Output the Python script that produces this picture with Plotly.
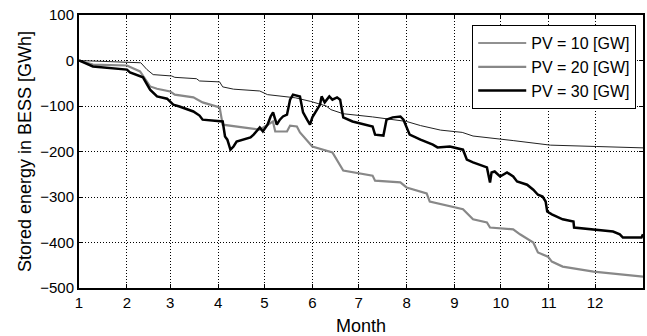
import plotly.graph_objects as go

# Day of year at which each month starts, and the month numbers shown
month_start_days = [0, 31, 59, 90, 120, 151, 181, 212, 243, 273, 304, 334]
month_labels = ["1", "2", "3", "4", "5", "6", "7", "8", "9", "10", "11", "12"]

# Stored energy in BESS [GWh] by day of year
pv10_day = [0, 20, 38, 40, 44, 48, 60, 62, 76, 78, 91, 93, 100, 117, 122, 140, 150, 160,
            163, 171, 190, 212, 221, 234, 248, 255, 281, 305, 335, 348, 365]
pv10_val = [0, -2, -4, -5, -20, -31, -34, -37, -40, -45, -47, -58, -63, -67, -75, -82, -90,
            -100, -108, -117, -124, -134, -143, -153, -158, -166, -176, -186, -189, -191, -192]

pv20_day = [0, 9, 31, 39.5, 46, 50.5, 59, 62, 74, 80, 91, 93, 106, 117, 125.5, 127, 134.6,
            136.6, 141, 143, 151, 158, 164, 171, 190, 191.6, 208, 212, 225, 227, 242, 248.5,
            255, 264, 266, 281, 285.4, 294, 297, 303.5, 306, 313, 333, 350, 365]
pv20_val = [0, -9, -11, -24, -57, -62, -68, -75, -81, -92, -103, -141, -147, -152, -134, -156,
            -156, -143, -145, -158, -189, -196, -202, -242, -253, -264, -268, -279, -292, -310,
            -321, -327, -349, -356, -367, -371, -382, -400, -422, -431, -442, -453, -464, -470,
            -475]

pv30_day = [0, 9, 31, 33, 41.4, 46, 50.5, 57, 61, 65, 74, 78, 80, 93, 94.5, 96, 98, 100, 102,
            111, 113, 117, 119, 122, 124, 125.6, 128, 130, 132, 134.6, 136.6, 138.5, 143, 145,
            147.6, 149.5, 151, 154, 156, 157, 159, 162, 164, 167, 169, 171, 177, 190, 191.6,
            197, 199, 203, 208, 210, 214, 221, 229, 232, 240, 248.5, 251, 255, 264, 266, 267,
            269, 272.5, 277, 281, 283.5, 290, 294, 297, 300, 302, 303, 306, 313, 320, 320.4,
            331, 345.6, 350, 352, 364, 365]
pv30_val = [0, -13, -20, -26, -37, -64, -79, -84, -97, -101, -112, -121, -130, -134, -167,
            -174, -196, -189, -178, -169, -163, -147, -156, -141, -123, -114, -141, -130, -123,
            -119, -86, -75, -79, -114, -130, -141, -125, -108, -97, -79, -92, -79, -86, -81,
            -86, -125, -134, -145, -163, -165, -130, -125, -123, -130, -163, -174, -185, -191,
            -189, -196, -218, -224, -235, -268, -246, -244, -255, -246, -255, -266, -273, -284,
            -295, -299, -310, -332, -338, -349, -354, -367, -371, -376, -382, -389, -389, -382]

series = [
    ("PV = 10 [GW]", pv10_day, pv10_val, "#222222", 1.0),
    ("PV = 20 [GW]", pv20_day, pv20_val, "#888888", 2.2),
    ("PV = 30 [GW]", pv30_day, pv30_val, "#000000", 2.5),
]

fig = go.Figure()
for name, xs, ys, color, width in series:
    fig.add_trace(go.Scatter(x=xs, y=ys, mode="lines", name=name,
                             line=dict(color=color, width=width)))

font_family = "Liberation Sans, Arial, sans-serif"

fig.update_layout(
    width=647, height=336,
    margin=dict(l=79, r=4, t=15, b=48, autoexpand=False),
    paper_bgcolor="white", plot_bgcolor="white",
    font=dict(family=font_family, size=15, color="black"),
    showlegend=True,
    legend=dict(x=0.988, y=0.963, xanchor="right", yanchor="top",
                bgcolor="white", bordercolor="black", borderwidth=1,
                font=dict(size=16), tracegroupgap=0, itemwidth=48),
    xaxis=dict(
        range=[0, 365], tickmode="array", tickvals=month_start_days, ticktext=month_labels,
        showgrid=True, gridcolor="black", gridwidth=1, griddash="1px,2px",
        showline=True, linecolor="black", linewidth=2, mirror="ticks",
        ticks="inside", ticklen=4, tickcolor="black",
        zeroline=False, tickfont=dict(size=15), automargin=False,
        title=dict(text="Month", standoff=10, font=dict(size=18)),
    ),
    yaxis=dict(
        range=[-500, 100], tickmode="linear", tick0=-500, dtick=100,
        showgrid=True, gridcolor="black", gridwidth=1, griddash="1px,2px",
        showline=True, linecolor="black", linewidth=2, mirror="ticks",
        ticks="inside", ticklen=4, tickcolor="black",
        zeroline=False, ticklabelstandoff=0, tickfont=dict(size=15), automargin=False,
        title=dict(text="Stored energy in BESS [GWh]", standoff=4, font=dict(size=18)),
    ),
)

fig.write_html("out.html")
